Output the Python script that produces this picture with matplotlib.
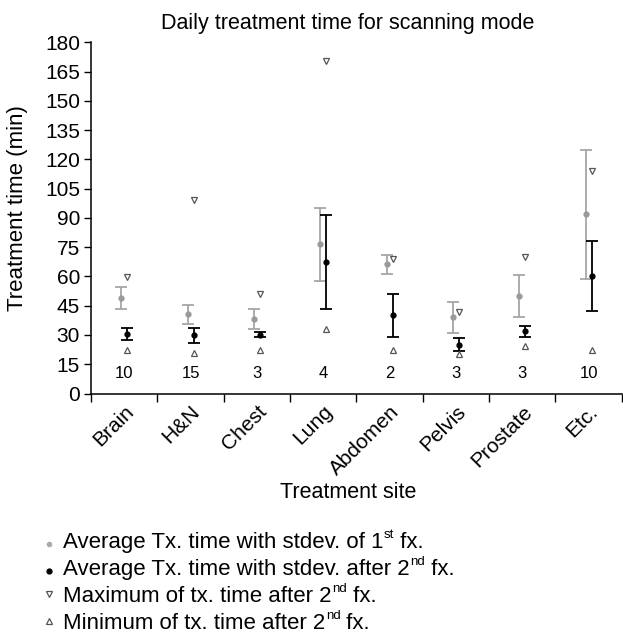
import numpy as np
import matplotlib
matplotlib.use("Agg")
import matplotlib.pyplot as plt
from matplotlib.lines import Line2D

plt.rcParams['font.family'] = ['Liberation Sans', 'DejaVu Sans']

# data
sites = ['Brain', 'H&N', 'Chest', 'Lung', 'Abdomen', 'Pelvis', 'Prostate', 'Etc.']
counts = [10, 15, 3, 4, 2, 3, 3, 10]

first_mean = [48.9, 40.5, 38.1, 76.4, 66.3, 39.1, 50.1, 91.8]
first_hi = [54.7, 45.3, 43.1, 95.0, 71.1, 47.0, 60.8, 124.8]
first_lo = [43.1, 35.4, 33.0, 57.9, 61.3, 30.9, 39.3, 58.8]

after_mean = [30.4, 30.1, 30.1, 67.2, 40.0, 24.9, 31.8, 60.2]
after_hi = [33.7, 33.7, 31.3, 91.3, 50.8, 28.2, 34.7, 78.1]
after_lo = [27.3, 26.1, 28.9, 43.1, 29.0, 21.8, 28.9, 42.2]

after_max = [59.8, 99.3, 50.9, 170.3, 68.9, 41.8, 70.1, 113.8]
after_min = [22.5, 20.8, 22.2, 33.3, 22.2, 20.5, 24.4, 22.5]

x = np.arange(len(sites))
fm = np.array(first_mean)
am = np.array(after_mean)

W, H = 623, 637
fig = plt.figure(figsize=(W / 100, H / 100), dpi=100)
ax = fig.add_axes([91/W, 1 - 393.5/H, 1 - 91/W - 0.002, (393.5 - 42.3)/H])

gray = '#9a9a9a'
off = 0.045

ax.errorbar(x - off, fm, yerr=[fm - np.array(first_lo), np.array(first_hi) - fm],
            fmt='o', color=gray, ecolor='#a6a6a6', ms=3.5, elinewidth=1.3,
            capsize=4.5, capthick=1.3)
ax.errorbar(x + off, am, yerr=[am - np.array(after_lo), np.array(after_hi) - am],
            fmt='o', color='black', ecolor='black', ms=3.5, elinewidth=1.3,
            capsize=4.2, capthick=1.3)
ax.plot(x + off, after_max, 'v', ms=4.5, mfc='white', mec='#555555', mew=0.9, ls='none')
ax.plot(x + off, after_min, '^', ms=4.5, mfc='white', mec='#555555', mew=0.9, ls='none')

for i, n in enumerate(counts):
    ax.text(x[i], 10.5, str(n), ha='center', va='center', fontsize=12)

ax.set_xlim(-0.5, len(sites) - 0.5)
ax.set_ylim(0, 180)
ax.set_yticks(np.arange(0, 181, 15))
ax.tick_params(axis='y', labelsize=15, length=5, width=1, direction='out', pad=3)
ax.set_xticks(x)
ax.set_xticklabels(sites, rotation=45, ha='right', rotation_mode='anchor', fontsize=15)
ax.tick_params(axis='x', which='major', length=0, pad=6)
ax.set_xticks(np.arange(-0.5, len(sites), 1), minor=True)
ax.tick_params(axis='x', which='minor', length=6, width=1, direction='out')

for s in ['top', 'right']:
    ax.spines[s].set_visible(False)
for s in ['left', 'bottom']:
    ax.spines[s].set_linewidth(1.1)

fig.text(18/W, 1 - 208/H, 'Treatment time (min)', rotation=90,
         ha='center', va='center', fontsize=16)
fig.text(348/W, 1 - 492/H, 'Treatment site', ha='center', va='center', fontsize=15.5)
fig.text(348/W, 1 - 23/H, 'Daily treatment time for scanning mode',
         ha='center', va='center', fontsize=15.5)

# legend drawn by hand below the axes: (text, superscript, tail)
leg_parts = [
    ('Average Tx. time with stdev. of 1', 'st', ' fx.'),
    ('Average Tx. time with stdev. after 2', 'nd', ' fx.'),
    ('Maximum of tx. time after 2', 'nd', ' fx.'),
    ('Minimum of tx. time after 2', 'nd', ' fx.'),
]
leg_styles = [
    dict(marker='o', color='#aaaaaa', ms=3),
    dict(marker='o', color='black', ms=3.5),
    dict(marker='v', mfc='white', mec='#555555', ms=4.2, mew=0.9),
    dict(marker='^', mfc='white', mec='#555555', ms=4.2, mew=0.9),
]
leg_dy = [4, 4, 8, 8]
renderer = fig.canvas.get_renderer()
for k, ((pre, sup, tail), st) in enumerate(zip(leg_parts, leg_styles)):
    base = 548 + 27 * k
    fig.add_artist(Line2D([49/W], [1 - (base - leg_dy[k])/H], ls='none',
                          transform=fig.transFigure, **st))
    t1 = fig.text(63/W, 1 - base/H, pre, ha='left', va='baseline', fontsize=16)
    x1 = t1.get_window_extent(renderer).x1
    t2 = fig.text((x1 + 0.5)/W, 1 - (base - 10)/H, sup, ha='left', va='baseline', fontsize=9.5)
    x2 = t2.get_window_extent(renderer).x1
    fig.text(x2/W, 1 - base/H, tail, ha='left', va='baseline', fontsize=16)

fig.savefig('out.png', dpi=100)
